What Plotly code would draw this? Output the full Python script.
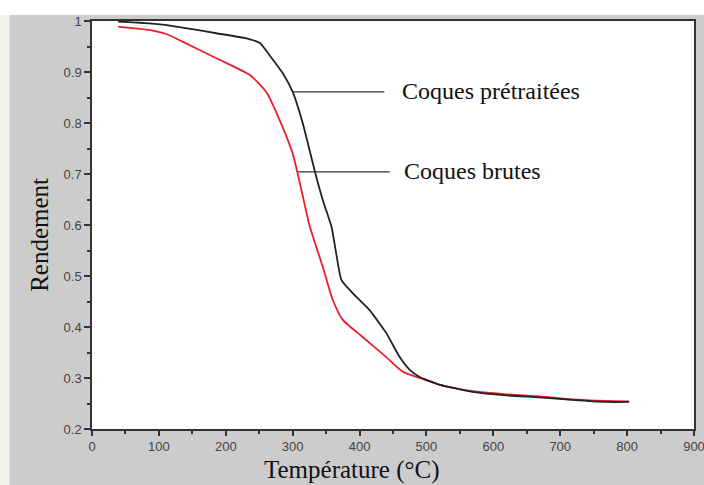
import plotly.graph_objects as go

temp_pretraitees = [39, 80, 112, 150, 186, 231, 251, 266, 285, 300, 315, 333, 345, 358, 365, 373,
                    390, 415, 440, 460, 475, 490, 519, 569, 619, 669, 718, 769, 803]
rend_pretraitees = [0.999, 0.996, 0.992, 0.984, 0.976, 0.966, 0.957, 0.932, 0.898, 0.861, 0.800,
                    0.706, 0.649, 0.597, 0.545, 0.492, 0.466, 0.433, 0.388, 0.341, 0.316, 0.302,
                    0.287, 0.273, 0.266, 0.262, 0.257, 0.253, 0.253]

temp_brutes = [39, 87, 112, 136, 186, 236, 261, 285, 300, 312, 325, 345, 360, 375, 405, 440, 465,
               490, 519, 569, 619, 669, 718, 769, 803]
rend_brutes = [0.989, 0.982, 0.974, 0.959, 0.927, 0.894, 0.860, 0.792, 0.740, 0.675, 0.600, 0.518,
               0.453, 0.414, 0.380, 0.341, 0.312, 0.300, 0.287, 0.274, 0.268, 0.264, 0.258, 0.255,
               0.254]

GRAY = "#cccccc"
AXIS = "#333333"
SERIF = "Liberation Serif"

fig = go.Figure()
fig.add_trace(go.Scatter(x=temp_brutes, y=rend_brutes, mode="lines", name="Coques brutes",
                         line=dict(color="#e8202a", width=1.8, shape="spline", smoothing=0.6)))
fig.add_trace(go.Scatter(x=temp_pretraitees, y=rend_pretraitees, mode="lines", name="Coques prétraitées",
                         line=dict(color="#222222", width=1.8, shape="spline", smoothing=0.5)))

# annotations avec leurs traits de rappel
fig.add_shape(type="line", x0=300, x1=437, y0=0.861, y1=0.861, line=dict(color="#333333", width=1.2))
fig.add_shape(type="line", x0=308, x1=445, y0=0.704, y1=0.704, line=dict(color="#333333", width=1.2))
fig.add_annotation(x=460, y=0.862, text="Coques prétraitées", showarrow=False, xanchor="left",
                   font=dict(family=SERIF, size=24, color="#111111"))
fig.add_annotation(x=464, y=0.706, text="Coques brutes", showarrow=False, xanchor="left",
                   font=dict(family=SERIF, size=24, color="#111111"))

# titres des axes
fig.add_annotation(xref="paper", yref="paper", x=0.432, y=-0.1, xanchor="center", yanchor="middle",
                   showarrow=False, text="Température (°C)",
                   font=dict(family=SERIF, size=25, color="#111111"))
fig.add_annotation(xref="paper", yref="paper", x=-0.087, y=0.475, xanchor="center", yanchor="middle",
                   textangle=-90, showarrow=False, text="Rendement",
                   font=dict(family=SERIF, size=25, color="#111111"))

# bandes claires autour du fond gris
fig.add_shape(type="rect", xref="paper", yref="paper", x0=-0.16, x1=1.03, y0=1.0147, y1=1.06,
              fillcolor="white", line_width=0)
fig.add_shape(type="rect", xref="paper", yref="paper", x0=-0.16, x1=-0.137, y0=-0.15, y1=1.0147,
              fillcolor="#f2f2ea", line_width=0)

tickfont = dict(family="Liberation Sans", size=13, color="#444444")
fig.update_xaxes(range=[0, 900], tickvals=list(range(0, 901, 100)), ticks="outside", ticklen=5,
                 tickwidth=1.5, tickcolor=AXIS, showline=True, linecolor=AXIS, linewidth=1.5,
                 mirror=True, showgrid=False, zeroline=False, tickfont=tickfont, automargin=False,
                 ticklabeloverflow="allow",
                 minor=dict(ticks="outside", dtick=50, ticklen=3, tickcolor=AXIS, showgrid=False))
fig.update_yaxes(range=[0.2, 1.0], tickvals=[0.2, 0.3, 0.4, 0.5, 0.6, 0.7, 0.8, 0.9, 1.0],
                 ticktext=["0.2", "0.3", "0.4", "0.5", "0.6", "0.7", "0.8", "0.9", "1"],
                 ticks="outside", ticklen=6, tickwidth=1.5, tickcolor=AXIS, showline=True,
                 linecolor=AXIS, linewidth=1.5, mirror=True, showgrid=False, zeroline=False,
                 tickfont=tickfont, automargin=False,
                 minor=dict(ticks="outside", dtick=0.05, ticklen=3, tickcolor=AXIS, showgrid=False))

fig.update_layout(width=704, height=485, margin=dict(l=92, r=10, t=21, b=56),
                  paper_bgcolor=GRAY, plot_bgcolor="white", showlegend=False)

# supprime la marge par défaut de la page pour caler le graphique dans la fenêtre
fig.write_html("out.html", config={"displayModeBar": False},
               post_script="document.body.style.margin='0';document.body.style.overflow='hidden';")
